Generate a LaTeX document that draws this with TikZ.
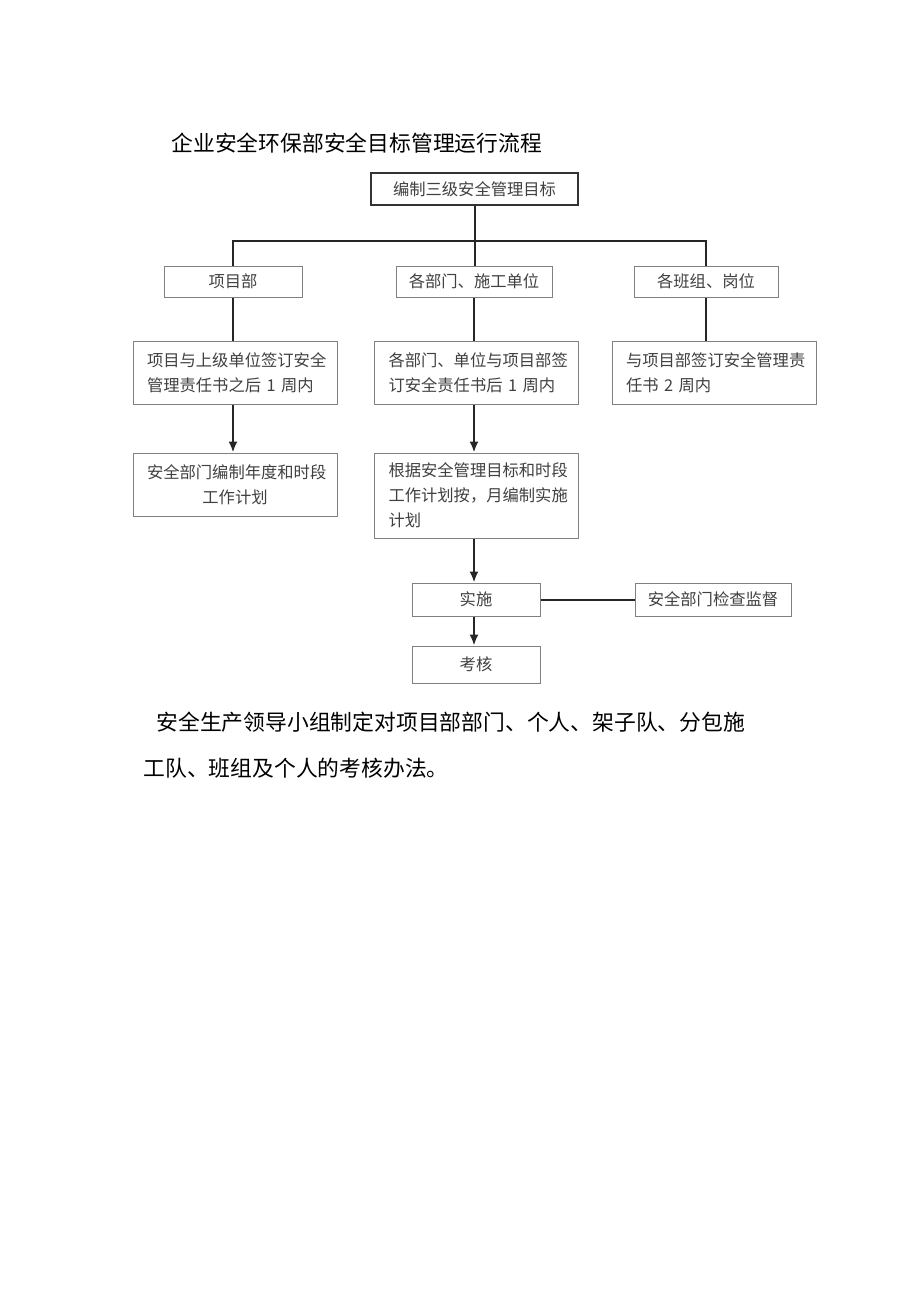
\documentclass[tikz,border=0pt]{standalone}
\usepackage{fontspec}
\newfontfamily\cjk{Noto Sans CJK SC}
\usepackage{tikz}
\usetikzlibrary{calc,arrows.meta}

\tikzset{
  box/.style={draw=black!50, line width=1pt, rectangle, inner sep=0pt,
    text=black!75, font=\cjk\fontsize{16.3}{25}\selectfont},
  textbox/.style={box, text width=176pt, align=left, inner xsep=14pt},
  conn/.style={draw=black!85, line width=2pt},
  arr/.style={conn, -{Latex[length=11pt,width=9pt]}}
}

\begin{document}
\begin{tikzpicture}[x=1pt, y=-1pt]
				\useasboundingbox[fill=white] (0,0) rectangle (920,1301);
				
				% Title
				\node[anchor=west, font=\cjk\fontsize{21.8}{26}\selectfont] (title) at (168,143) {企业安全环保部安全目标管理运行流程};
				
				% Top goal
				\node[box, draw=black!80, line width=1.6pt, minimum width=207pt, minimum height=32pt] (goal) at (474.5,189) {编制三级安全管理目标};
				
				% Second row
				\node[box, minimum width=138pt, minimum height=31pt] (xmb) at (233,281.5) {项目部};
				\node[box, minimum width=156pt, minimum height=31pt] (bm) at (474,281.5) {各部门、施工单位};
				\node[box, minimum width=144pt, minimum height=31pt] (bz) at (706,281.5) {各班组、岗位};
				
				% Third row
				\node[textbox, minimum width=204pt, minimum height=63pt] (qa) at (235,372.5) {项目与上级单位签订安全\\管理责任书之后 1 周内};
				\node[textbox, minimum width=203pt, minimum height=63pt] (qb) at (476.5,372.5) {各部门、单位与项目部签\\订安全责任书后 1 周内};
				\node[textbox, minimum width=204pt, minimum height=63pt] (qc) at (714,372.5) {与项目部签订安全管理责\\任书 2 周内};
				
				% Fourth row
				\node[textbox, align=center, minimum width=204pt, minimum height=63pt] (pa) at (235,484.5) {安全部门编制年度和时段\\工作计划};
				\node[textbox, minimum width=203pt, minimum height=85pt] (pb) at (476.5,495.5) {根据安全管理目标和时段\\工作计划按，月编制实施\\计划};
				
				% Implementation
				\node[box, minimum width=128pt, minimum height=33pt] (ss) at (476,599.5) {实施};
				\node[box, minimum width=156pt, minimum height=33pt] (jc) at (713,599.5) {安全部门检查监督};
				\node[box, minimum width=128pt, minimum height=37pt] (kh) at (476,664.5) {考核};
				
				% Tree lines
				\coordinate (bar) at ($(goal.south |- 0,241)$);
				\draw[conn] (goal.south) -- (goal.south |- bm.north);
				\draw[conn] (xmb.north) |- (bar) -| (bz.north);
				\draw[conn] (xmb.south) -- (xmb.south |- qa.north);
				\draw[conn] (bm.south) -- (bm.south |- qb.north);
				\draw[conn] (bz.south) -- (bz.south |- qc.north);
				
				% Arrows
				\draw[arr] (xmb.south |- qa.south) -- (xmb.south |- pa.north);
				\draw[arr] (bm.south |- qb.south) -- (bm.south |- pb.north);
				\draw[arr] (bm.south |- pb.south) -- (bm.south |- ss.north);
				\draw[arr] (bm.south |- ss.south) -- (bm.south |- kh.north);
				\draw[conn] (ss.east) -- (jc.west);
				
				% Closing text
				\node[anchor=west, font=\cjk\fontsize{21.8}{26}\selectfont] (note1) at (153,722) {安全生产领导小组制定对项目部部门、个人、架子队、分包施};
				\node[anchor=west, font=\cjk\fontsize{21.8}{26}\selectfont] (note2) at (140,768) {工队、班组及个人的考核办法。};
			\end{tikzpicture}
\end{document}
